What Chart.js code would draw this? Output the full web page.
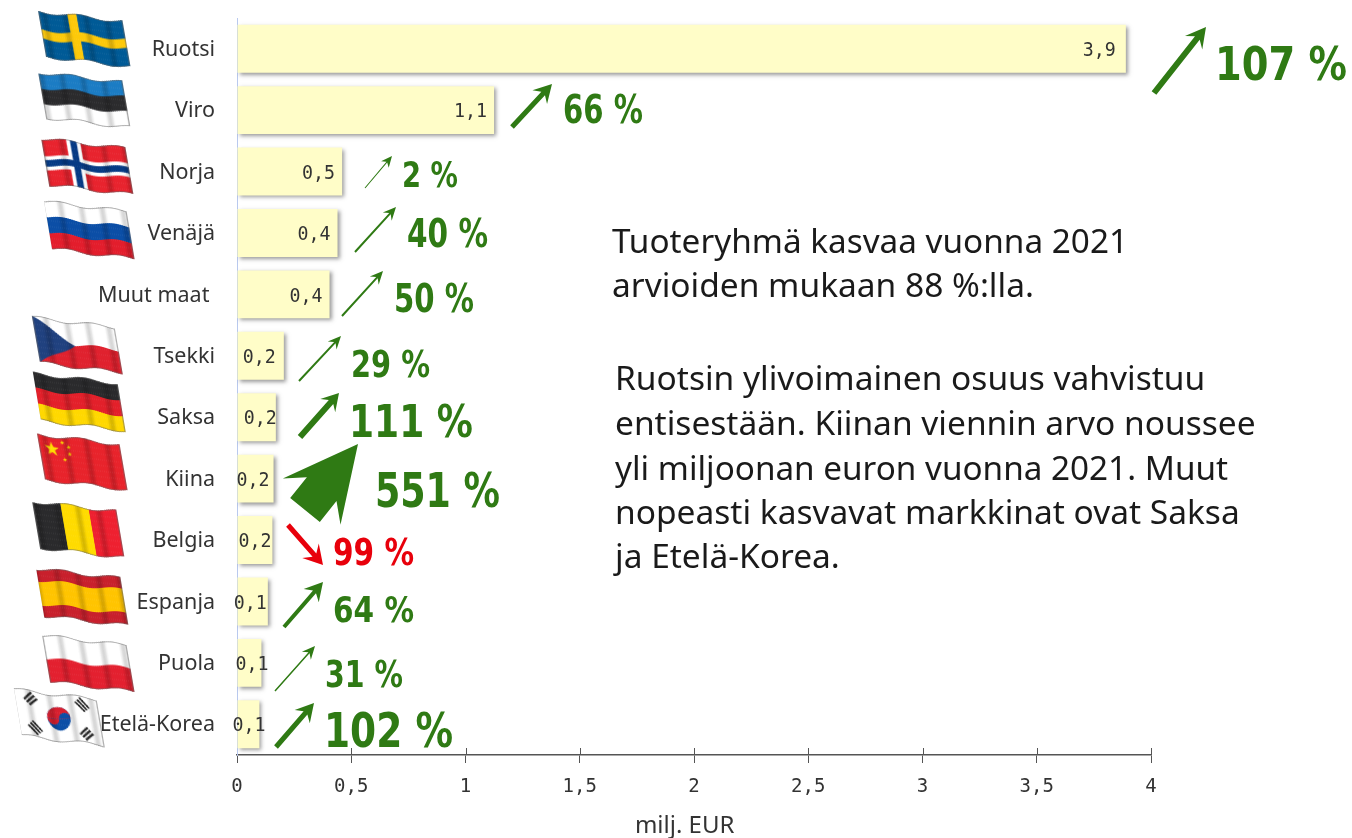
<!DOCTYPE html>
<html lang="fi">
<head>
<meta charset="UTF-8">
<title>Vienti maittain</title>
<script src="https://cdn.jsdelivr.net/npm/chart.js"></script>
<style>
  html, body { margin: 0; padding: 0; background: #fff; }
  canvas { display: block; }
</style>
</head>
<body>
<canvas id="chart" width="1352" height="838"></canvas>
<script>
// values
const categories = ['Ruotsi', 'Viro', 'Norja', 'Venäjä', 'Muut maat ', 'Tsekki', 'Saksa', 'Kiina', 'Belgia', 'Espanja', 'Puola', 'Etelä-Korea'];
const exportValues = [3.89, 1.125, 0.46, 0.44, 0.405, 0.205, 0.17, 0.16, 0.155, 0.135, 0.107, 0.098];
const changeLabels = ['107 %', '66 %', '2 %', '40 %', '50 %', '29 %', '111 %', '551 %', '99 %', '64 %', '31 %', '102 %'];
const xTicks = [0, 0.5, 1, 1.5, 2, 2.5, 3, 3.5, 4];
const axisTitle = 'milj. EUR';
const paragraphLines = [
  'Tuoteryhmä kasvaa vuonna 2021',
  'arvioiden mukaan 88 %:lla.',
  'Ruotsin ylivoimainen osuus vahvistuu',
  'entisestään. Kiinan viennin arvo noussee',
  'yli miljoonan euron vuonna 2021. Muut',
  'nopeasti kasvavat markkinat ovat Saksa',
  'ja Etelä-Korea.'
];

// layout of the hand placed decorations, same order as categories
const GREEN = '#2f7a14';
const RED = '#e8000b';
const valueLabelShift = [-10, -7, -7, -7, -7, -8, 1, -4, -1, -1, 7, 6];
const changeBoxes = [
  [1215, 80, 132, 34], [563, 123, 80, 28], [402, 187, 56, 26], [407, 247, 81, 28],
  [394, 312, 80, 28], [351, 377, 79, 27], [349, 437, 124, 33], [375, 507, 125, 35],
  [333, 565, 81, 27], [333, 622, 81, 26], [325, 687, 78, 27], [324, 747, 129, 35]
];
// tail x, tail y, tip x, tip y, shaft width, head length, head half width, notch length
const arrows = [
  [1154, 93, 1206, 27, 6, 20, 11, 14],
  [512, 127, 552, 84, 5, 18, 10, 13],
  [365, 188, 392, 156, 1, 11, 5, 8],
  [355, 252, 396, 207, 2, 13, 6, 9],
  [342, 316, 383, 271, 2, 13, 6, 9],
  [299, 381, 341, 336, 2, 13, 6, 9],
  [300, 437, 339, 393, 6, 17, 10, 12],
  [305, 510, 358, 444, 38, 74, 37, 58],
  [288, 525, 323, 565, 5, 19, 11, 13],
  [284, 627, 323, 582, 4, 18, 10, 13],
  [275, 691, 315, 646, 1.5, 13, 6, 9],
  [276, 747, 314, 703, 5, 18, 10, 13]
];
const paragraphPos = [[612, 253, 516], [612, 297, 427], [615, 390, 595], [615, 435, 641], [615, 480, 613], [615, 524, 626], [615, 568, 227]];
// flag name, left, top, width, height
const flags = [
  ['se', 38, 10, 92, 56], ['ee', 38, 71, 92, 56], ['no', 41, 137, 92, 57], ['ru', 43, 200, 91, 58],
  ['cz', 32, 316, 90, 56], ['de', 32, 372, 93, 58], ['cn', 37, 433, 90, 56], ['be', 32, 500, 92, 57],
  ['es', 35, 567, 93, 58], ['pl', 42, 634, 92, 57], ['kr', 13, 688, 91, 57]
];

function stripesH(c, W, H, cols, parts) {
  const total = parts.reduce((a, b) => a + b, 0);
  let y = 0;
  cols.forEach((col, i) => {
    c.fillStyle = col;
    c.fillRect(0, y, W, H * parts[i] / total + 1);
    y += H * parts[i] / total;
  });
}
function stripesV(c, W, H, cols) {
  cols.forEach((col, i) => {
    c.fillStyle = col;
    c.fillRect(W * i / cols.length, 0, W / cols.length + 1, H);
  });
}
function cross(c, W, H, col, cx, w) {
  c.fillStyle = col;
  c.fillRect(W * cx - w / 2, 0, w, H);
  c.fillRect(0, H * 0.5 - w / 2, W, w);
}
function star(c, x, y, r) {
  c.fillStyle = '#ffde00';
  c.beginPath();
  for (let i = 0; i < 10; i++) {
    const a = -Math.PI / 2 + i * Math.PI / 5;
    const d = i % 2 ? r * 0.4 : r;
    c.lineTo(x + d * Math.cos(a), y + d * Math.sin(a));
  }
  c.closePath();
  c.fill();
}
function paintFlag(c, name, W, H) {
  if (name === 'se') { c.fillStyle = '#005a96'; c.fillRect(0, 0, W, H); cross(c, W, H, '#fdc90a', 0.4, H * 0.2); }
  if (name === 'ee') stripesH(c, W, H, ['#1b7cc4', '#2b2b2d', '#ffffff'], [1, 1, 1]);
  if (name === 'no') {
    c.fillStyle = '#e8232e'; c.fillRect(0, 0, W, H);
    cross(c, W, H, '#ffffff', 0.38, H * 0.3);
    cross(c, W, H, '#063a84', 0.38, H * 0.14);
  }
  if (name === 'ru') stripesH(c, W, H, ['#ffffff', '#0b4ea6', '#e31d2c'], [1, 1, 1]);
  if (name === 'cz') {
    stripesH(c, W, H, ['#ffffff', '#e0212e'], [1, 1]);
    c.fillStyle = '#20417f';
    c.beginPath(); c.moveTo(0, 0); c.lineTo(W * 0.47, H / 2); c.lineTo(0, H); c.fill();
  }
  if (name === 'de') stripesH(c, W, H, ['#2a2a2c', '#e3202a', '#ffd800'], [1, 1, 1]);
  if (name === 'cn') {
    c.fillStyle = '#e8232b'; c.fillRect(0, 0, W, H);
    star(c, W * 0.15, H * 0.26, H * 0.16);
    star(c, W * 0.29, H * 0.1, H * 0.05);
    star(c, W * 0.36, H * 0.21, H * 0.05);
    star(c, W * 0.36, H * 0.36, H * 0.05);
    star(c, W * 0.29, H * 0.47, H * 0.05);
  }
  if (name === 'be') stripesV(c, W, H, ['#2a2a2c', '#ffdb00', '#ee2030']);
  if (name === 'es') stripesH(c, W, H, ['#c8202c', '#ffc400', '#c8202c'], [1, 2, 1]);
  if (name === 'pl') stripesH(c, W, H, ['#ffffff', '#e3202f'], [1, 1]);
  if (name === 'kr') {
    c.fillStyle = '#ffffff'; c.fillRect(0, 0, W, H);
    const cx = W / 2, cy = H / 2, r = H * 0.25;
    c.fillStyle = '#0b4ea6'; c.beginPath(); c.arc(cx, cy, r, 0, Math.PI * 2); c.fill();
    c.fillStyle = '#d8202f'; c.beginPath(); c.arc(cx, cy, r, Math.PI, Math.PI * 2); c.fill();
    c.beginPath(); c.arc(cx - r / 2, cy, r / 2, 0, Math.PI); c.fill();
    c.fillStyle = '#0b4ea6'; c.beginPath(); c.arc(cx + r / 2, cy, r / 2, Math.PI, Math.PI * 2); c.fill();
    c.fillStyle = '#222';
    [[-1, -1], [1, -1], [-1, 1], [1, 1]].forEach(p => {
      c.save();
      c.translate(cx + p[0] * W * 0.31, cy + p[1] * H * 0.31);
      c.rotate(p[0] * p[1] > 0 ? -Math.PI / 4 : Math.PI / 4);
      for (let k = -1; k <= 1; k++) c.fillRect(-6, k * 3.4 - 1, 12, 2);
      c.restore();
    });
  }
}
function drawFlag(ctx, f, idx) {
  const w = f[3], h = f[4];
  const W = w - 8, H = Math.round(h * 0.82);
  const off = document.createElement('canvas');
  off.width = W; off.height = H;
  const c = off.getContext('2d');
  paintFlag(c, f[0], W, H);
  // folds
  for (let i = 0; i < W; i++) {
    const s = Math.sin(i * 0.3 + idx);
    c.fillStyle = 'rgba(0,0,0,' + (0.16 * Math.pow(Math.max(0, s), 2)).toFixed(3) + ')';
    c.fillRect(i, 0, 1, H);
  }
  c.strokeStyle = 'rgba(110,110,110,0.55)';
  c.strokeRect(0.5, 0.5, W - 1, H - 1);
  ctx.save();
  ctx.transform(1, (h - H) / W, 8 / H, 1, f[1], f[2] + 1);
  for (let i = W - 2; i >= 0; i -= 2) {
    const dy = 1.8 * Math.sin(i * 0.12 + idx);
    ctx.drawImage(off, i, 0, 2, H, i, dy, 2.6, H);
  }
  ctx.restore();
}
function drawArrow(ctx, a, color) {
  const dx = a[2] - a[0], dy = a[3] - a[1];
  const len = Math.hypot(dx, dy);
  const ux = dx / len, uy = dy / len, nx = -uy, ny = ux;
  const at = (along, side) => [a[2] - ux * along + nx * side, a[3] - uy * along + ny * side];
  const pts = [
    [a[2], a[3]],
    at(a[5], a[6]),
    at(a[7], a[4] / 2),
    at(len, a[4] / 2),
    at(len, -a[4] / 2),
    at(a[7], -a[4] / 2),
    at(a[5], -a[6])
  ];
  ctx.fillStyle = color;
  ctx.beginPath();
  pts.forEach(p => ctx.lineTo(p[0], p[1]));
  ctx.closePath();
  ctx.fill();
}

const decorations = {
  id: 'decorations',
  beforeDatasetsDraw(chart) {
    const ctx = chart.ctx;
    ctx.save();
    ctx.shadowColor = 'rgba(70,70,70,0.55)';
    ctx.shadowBlur = 4;
    ctx.shadowOffsetX = 2;
    ctx.shadowOffsetY = 2;
  },
  afterDatasetsDraw(chart) {
    const ctx = chart.ctx;
    ctx.restore();
    const x = chart.scales.x, y = chart.scales.y;
    ctx.save();
    // bar value labels
    ctx.font = '20px "DejaVu Sans Mono"';
    ctx.fillStyle = '#333';
    ctx.textAlign = 'right';
    ctx.textBaseline = 'middle';
    exportValues.forEach((v, i) => {
      const t = v.toFixed(1).replace('.', ',');
      ctx.fillText(t, x.getPixelForValue(v) + valueLabelShift[i], y.getPixelForValue(i) + 2, 33);
    });
    ctx.restore();
  },
  afterDraw(chart) {
    const ctx = chart.ctx;
    const x = chart.scales.x;
    ctx.save();
    // ticks also stick up above the axis line
    ctx.strokeStyle = '#555';
    ctx.lineWidth = 1;
    xTicks.slice(1).forEach(v => {
      const px = Math.round(x.getPixelForValue(v)) + 0.5;
      ctx.beginPath();
      ctx.moveTo(px, chart.chartArea.bottom);
      ctx.lineTo(px, chart.chartArea.bottom - 7);
      ctx.stroke();
    });
    flags.forEach((f, i) => drawFlag(ctx, f, i));
    arrows.forEach((a, i) => drawArrow(ctx, a, changeLabels[i] === '99 %' ? RED : GREEN));
    ctx.textAlign = 'left';
    ctx.textBaseline = 'alphabetic';
    changeLabels.forEach((t, i) => {
      const b = changeBoxes[i];
      ctx.font = 'bold ' + (b[3] / 0.73).toFixed(1) + 'px "DejaVu Sans"';
      ctx.fillStyle = t === '99 %' ? RED : GREEN;
      ctx.fillText(t, b[0], b[1], b[2]);
    });
    ctx.font = '33.5px "Noto Sans"';
    ctx.fillStyle = '#1a1a1a';
    paragraphLines.forEach((t, i) => {
      const p = paragraphPos[i];
      ctx.fillText(t, p[0], p[1], p[2]);
    });
    ctx.restore();
  }
};

new Chart(document.getElementById('chart'), {
  type: 'bar',
  data: {
    labels: categories,
    datasets: [{
      data: exportValues,
      backgroundColor: '#fffdc8',
      borderWidth: 0,
      barPercentage: 0.78,
      categoryPercentage: 1
    }]
  },
  options: {
    indexAxis: 'y',
    responsive: false,
    animation: false,
    layout: { padding: { top: 18, right: 201, left: 0, bottom: 0 } },
    plugins: { legend: { display: false }, tooltip: { enabled: false } },
    scales: {
      x: {
        min: 0,
        max: 4,
        afterFit(scale) { scale.height = 83; },
        afterBuildTicks(scale) { scale.ticks = xTicks.map(v => ({ value: v })); },
        border: { color: '#555', width: 1.5 },
        grid: { drawOnChartArea: false, tickLength: 8, color: '#555' },
        ticks: {
          padding: 13,
          maxRotation: 0,
          autoSkip: false,
          color: '#333',
          font: { family: '"DejaVu Sans Mono"', size: 19 },
          callback: v => String(v).replace('.', ',')
        },
        title: {
          display: true,
          text: axisTitle + '   ',
          color: '#333',
          font: { family: '"Noto Sans"', size: 24, lineHeight: 1 },
          padding: { top: 0, bottom: 0 }
        }
      },
      y: {
        afterFit(scale) { scale.width = 237; scale.paddingTop = 0; scale.paddingBottom = 0; },
        border: { color: '#b9c9ee', width: 1 },
        grid: { display: false },
        ticks: {
          padding: 14,
          labelOffset: 1,
          autoSkip: false,
          color: '#333',
          font: { family: '"Noto Sans"', size: 21.5 }
        }
      }
    }
  },
  plugins: [decorations]
});
</script>
</body>
</html>
